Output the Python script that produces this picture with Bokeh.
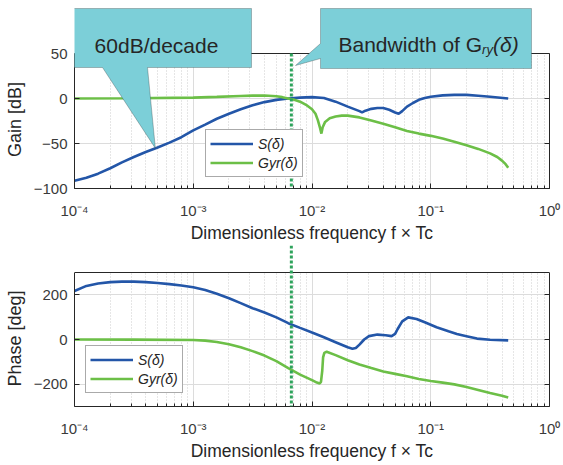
import numpy as np
from bokeh.plotting import figure
from bokeh.layouts import column
from bokeh.models import (Range1d, Legend, LegendItem, Label, PolyAnnotation, Arrow, Span,
                          BoxAnnotation, FixedTicker, LinearAxis, CustomJSTickFormatter)
from bokeh.embed import file_html
from bokeh.resources import INLINE

# ---------------- data ----------------
f_gain_S = [1.00e-4, 1.26e-4, 1.58e-4, 2.00e-4, 2.51e-4, 3.16e-4, 3.98e-4, 5.01e-4, 6.31e-4, 7.94e-4,
            1.00e-3, 1.26e-3, 1.58e-3, 2.00e-3, 2.51e-3, 3.16e-3, 3.98e-3, 5.01e-3, 6.31e-3, 7.94e-3,
            1.00e-2, 1.26e-2, 1.58e-2, 2.00e-2, 2.51e-2, 2.64e-2, 2.82e-2, 3.16e-2, 3.55e-2, 3.98e-2,
            4.47e-2, 5.01e-2, 5.37e-2, 5.75e-2, 6.31e-2, 7.08e-2, 7.94e-2, 8.91e-2, 1.00e-1, 1.26e-1,
            1.58e-1, 2.00e-1, 2.51e-1, 3.16e-1, 4.49e-1]
gain_S = [-91.5, -88, -83.5, -77.5, -71, -65, -59.5, -54.5, -49, -43,
          -35.5, -29, -22.5, -17, -12, -7.5, -4, -1.5, 0, 1,
          1.5, 0.5, -3.5, -9, -14, -15.5, -13.5, -11.5, -10.5, -10.5,
          -12.5, -15.5, -17, -14, -9, -5, -1.5, 0.5, 2, 3.5,
          4, 4, 3, 2, 0]

f_gain_G = [1.00e-4, 3.16e-4, 1.00e-3, 1.58e-3, 2.51e-3, 3.16e-3, 3.98e-3, 5.01e-3, 5.62e-3, 6.31e-3,
            7.08e-3, 7.94e-3, 8.91e-3, 1.00e-2, 1.07e-2, 1.12e-2, 1.17e-2, 1.20e-2, 1.23e-2, 1.29e-2,
            1.41e-2, 1.58e-2, 1.78e-2, 2.00e-2, 2.51e-2, 3.16e-2, 3.98e-2, 5.01e-2, 6.31e-2, 7.94e-2,
            1.00e-1, 1.26e-1, 1.58e-1, 2.00e-1, 2.51e-1, 3.16e-1, 3.63e-1, 3.98e-1, 4.27e-1, 4.49e-1]
gain_G = [0, 0.2, 1, 1.8, 2.8, 3.2, 3.3, 2.5, 1.5, 0,
          -1.5, -3.5, -7, -12, -17, -24, -33, -39, -32, -26,
          -22, -20, -19, -19, -21, -24.5, -28, -32, -36, -39,
          -41.5, -44.5, -48, -52, -56, -61, -65, -69, -73, -77]

f_phase_S = [1.00e-4, 1.26e-4, 1.58e-4, 2.00e-4, 2.51e-4, 3.16e-4, 3.98e-4, 5.01e-4, 6.31e-4, 7.94e-4,
             1.00e-3, 1.26e-3, 1.58e-3, 2.00e-3, 2.51e-3, 3.16e-3, 3.98e-3, 5.01e-3, 6.31e-3, 7.94e-3,
             1.00e-2, 1.26e-2, 1.58e-2, 2.00e-2, 2.19e-2, 2.34e-2, 2.51e-2, 2.75e-2, 3.02e-2, 3.55e-2,
             4.17e-2, 4.68e-2, 5.01e-2, 5.25e-2, 5.75e-2, 6.46e-2, 7.59e-2, 8.91e-2, 1.12e-1, 1.41e-1,
             1.66e-1, 2.00e-1, 2.45e-1, 3.16e-1, 4.49e-1]
phase_S = [217, 240, 251, 257, 259, 259, 257, 253, 248, 242,
           234, 222, 205, 185, 163, 140, 121, 99, 73, 52,
           31, 10, -12, -35, -41, -38, -23, 0, 15, 22,
           19, 15, 25, 46, 81, 99, 92, 77, 55, 37,
           25, 15, 4, -1, -4]

f_phase_G = [1.00e-4, 3.16e-4, 1.00e-3, 1.26e-3, 1.58e-3, 2.00e-3, 2.51e-3, 3.16e-3, 3.98e-3, 5.01e-3,
             6.31e-3, 7.94e-3, 1.00e-2, 1.10e-2, 1.16e-2, 1.19e-2, 1.22e-2, 1.24e-2, 1.27e-2, 1.33e-2,
             1.58e-2, 2.00e-2, 2.51e-2, 3.16e-2, 3.98e-2, 5.01e-2, 6.31e-2, 7.94e-2, 1.00e-1, 1.26e-1,
             1.58e-1, 2.00e-1, 2.51e-1, 3.16e-1, 3.98e-1, 4.49e-1]
phase_G = [0, -0.5, -2, -5, -11, -21, -35, -52, -72, -97,
           -128, -157, -182, -193, -197, -190, -140, -80, -60, -55,
           -70, -93, -112, -128, -143, -154, -165, -177, -186, -193,
           -201, -213, -226, -240, -252, -260]

bandwidth_f = 6.7e-3          # bandwidth of G_ry marker
slope_marker_f = 4.8e-4       # point the "60dB/decade" callout refers to

x_ticks = [1e-4, 1e-3, 1e-2, 1e-1, 1.0]
x_tick_labels = ["10⁻⁴", "10⁻³", "10⁻²", "10⁻¹", "10⁰"]
gain_lim = (-100, 50)
gain_ticks = [-100, -50, 0, 50]
gain_tick_labels = ["−100", "−50", "0", "50"]
phase_lim = (-300, 300)
phase_ticks = [-200, 0, 200]
phase_tick_labels = ["−200", "0", "200"]
x_minor = [m * 10.0 ** e for e in range(-4, 0) for m in range(2, 10)]

# ---------------- style / layout (page pixels) ----------------
FONT = "Liberation Sans"
INK = "#262626"
BLUE = "#2356a8"
GREEN = "#6cbf47"
BW = "#2ea35c"
CALLOUT = "#7ccfd8"

W = 563
LEFT, RIGHT = 74, 14
X0, X1 = LEFT, W - RIGHT            # frame left/right (page x)
DEC = (X1 - X0) / 4.0

H_TOP = 245                         # top figure occupies page y 0..245
G_TOP_PX, G_BOT_PX = 53, 188        # where 50 dB and -100 dB sit
H_BOT = 220                         # bottom figure occupies page y 245..465
P_TOP_PX, P_BOT_PX = 272, 406       # where 300 deg and -300 deg sit


def fx(px):
    return 10 ** (-4 + (px - X0) / DEC)


def gy(py):
    return gain_lim[1] - (py - G_TOP_PX) * (gain_lim[1] - gain_lim[0]) / (G_BOT_PX - G_TOP_PX)


def ph(py):
    return phase_lim[1] - (py - P_TOP_PX) * (phase_lim[1] - phase_lim[0]) / (P_BOT_PX - P_TOP_PX)


def overrides(ticks, labels):
    d = {}
    for t, l in zip(ticks, labels):
        t = float(t)
        d[t] = l
        d[str(int(t)) if t.is_integer() else repr(t)] = l
    return d


def make_fig(height, page_top, frame_bottom_px, yconv, lim, yticks, ylabels, ylabel, pad):
    bottom_border = page_top + height - frame_bottom_px
    y_top = yconv(page_top)
    p = figure(width=W, height=height, x_axis_type="log", x_range=Range1d(1e-4, 1.0),
               y_range=Range1d(lim[0], y_top), output_backend="svg", toolbar_location=None,
               min_border_left=LEFT, min_border_right=RIGHT, min_border_top=0,
               min_border_bottom=bottom_border)
    p.title.visible = False
    p.outline_line_color = None
    p.border_fill_color = "white"
    p.background_fill_color = "white"
    xt = FixedTicker(ticks=x_ticks, minor_ticks=x_minor)
    yt = FixedTicker(ticks=yticks)
    p.xaxis.ticker = xt
    p.yaxis.ticker = yt
    p.xgrid.ticker = xt
    p.ygrid.ticker = yt
    p.yaxis.bounds = lim
    p.xaxis.major_label_overrides = overrides(x_ticks, x_tick_labels)
    p.yaxis.major_label_overrides = overrides(yticks, ylabels)
    p.xgrid.grid_line_color = "#dcdcdc"
    p.xgrid.minor_grid_line_color = "#cccccc"
    p.xgrid.minor_grid_line_dash = "1 2"
    p.ygrid.grid_line_color = "#dcdcdc"
    try:
        p.xgrid.cross_bounds = lim
    except AttributeError:
        p.add_layout(BoxAnnotation(bottom=lim[1], fill_color="white", fill_alpha=1,
                                   line_alpha=0, level="underlay"))
    for ax in (p.xaxis[0], p.yaxis[0]):
        ax.axis_line_color = INK
        ax.major_tick_line_color = INK
        ax.minor_tick_line_color = INK
        ax.major_tick_in = 5
        ax.major_tick_out = 0
        ax.minor_tick_in = 3
        ax.minor_tick_out = 0
        ax.major_label_text_font = FONT
        ax.major_label_text_color = "#3a3a3a"
    p.xaxis.major_label_text_font_size = "15px"
    p.xaxis.major_label_standoff = 13
    p.xaxis.axis_label = "Dimensionless frequency f × Tc"
    p.xaxis.axis_label_text_font = FONT
    p.xaxis.axis_label_text_font_size = "17.5px"
    p.xaxis.axis_label_text_font_style = "normal"
    p.xaxis.axis_label_text_color = INK
    p.xaxis.axis_label_standoff = 1
    p.yaxis.major_label_text_font_size = "15px"
    p.yaxis.major_label_standoff = 7
    # pad the label so it centres on the plotted box rather than on the whole frame
    p.yaxis.axis_label = ylabel + "\u00a0" * pad
    p.yaxis.axis_label_text_font = FONT
    p.yaxis.axis_label_text_font_size = "18px"
    p.yaxis.axis_label_text_font_style = "normal"
    p.yaxis.axis_label_text_color = INK
    p.yaxis.axis_label_standoff = 6
    blank = CustomJSTickFormatter(code="return ''")
    right_ax = LinearAxis(ticker=yt, formatter=blank, major_label_text_font_size="0px",
                          major_label_standoff=0, axis_line_color=INK, bounds=lim,
                          major_tick_in=5, major_tick_out=0, major_tick_line_color=INK)
    p.add_layout(right_ax, "right")
    # top edge of the axes box
    p.add_layout(Span(location=lim[1], dimension="width", line_color=INK, line_width=1))
    return p


def make_legend(r1, r2, loc):
    lg = Legend(items=[LegendItem(label="S(δ)", renderers=[r1]),
                       LegendItem(label="Gyr(δ)", renderers=[r2])],
                location=loc)
    lg.label_text_font = FONT
    lg.label_text_font_style = "italic"
    lg.label_text_font_size = "14px"
    lg.label_text_color = INK
    lg.glyph_width = 43
    lg.glyph_height = 19
    lg.label_height = 19
    lg.label_standoff = 5
    lg.padding = 4
    lg.spacing = 0
    lg.margin = 0
    lg.border_line_color = "#555555"
    lg.border_line_width = 1
    lg.background_fill_color = "white"
    lg.background_fill_alpha = 1
    return lg


# ---------------- top: gain ----------------
pg = make_fig(H_TOP, 0, G_BOT_PX, gy, gain_lim, gain_ticks, gain_tick_labels, "Gain [dB]", 10)
rs = pg.line(f_gain_S, gain_S, line_color=BLUE, line_width=2.6)
rg = pg.line(f_gain_G, gain_G, line_color=GREEN, line_width=2.6)
pg.add_layout(make_legend(rs, rg, (131, 11)), "center")
pg.add_layout(Arrow(end=None, x_start=bandwidth_f, y_start=gain_lim[1], x_end=bandwidth_f,
                    y_end=gain_lim[0] - 20, line_color=BW, line_width=3, line_dash="3 2"))

# callout 1: slope
tip_y = float(np.interp(np.log10(slope_marker_f), np.log10(f_gain_S), gain_S))
c1x = [fx(72), fx(251), fx(251), fx(147), slope_marker_f, fx(102), fx(72)]
c1y = [gy(8), gy(8), gy(67), gy(67), tip_y, gy(67), gy(67)]
pg.add_layout(PolyAnnotation(xs=c1x, ys=c1y, xs_units="data", ys_units="data",
                             fill_color=CALLOUT, fill_alpha=1, line_color="#333333", line_width=1))
pg.add_layout(Label(x=fx(156), y=gy(45), text="60dB/decade", text_font=FONT, text_font_size="21px",
                    text_color=INK, text_align="center", text_baseline="alphabetic"))

# callout 2: bandwidth
c2x = [fx(320), fx(531), fx(531), fx(320), fx(320), fx(295), fx(320)]
c2y = [gy(8), gy(8), gy(68), gy(68), gy(58), gy(65), gy(43)]
pg.add_layout(PolyAnnotation(xs=c2x, ys=c2y, xs_units="data", ys_units="data",
                             fill_color=CALLOUT, fill_alpha=1, line_color="#333333", line_width=1))
bx = 338
w1 = 6.837 * 21
pg.add_layout(Label(x=fx(bx), y=gy(44), text="Bandwidth of G", text_font=FONT, text_font_size="21px",
                    text_color=INK, text_align="left", text_baseline="alphabetic"))
pg.add_layout(Label(x=fx(bx + w1), y=gy(49), text="ry", text_font=FONT, text_font_size="13px",
                    text_font_style="italic", text_color=INK, text_align="left", text_baseline="alphabetic"))
pg.add_layout(Label(x=fx(bx + w1 + 11), y=gy(44), text="(δ)", text_font=FONT, text_font_size="21px",
                    text_font_style="italic", text_color=INK, text_align="left", text_baseline="alphabetic"))

# ---------------- bottom: phase ----------------
pp = make_fig(H_BOT, H_TOP, P_BOT_PX, ph, phase_lim, phase_ticks, phase_tick_labels, "Phase [deg]", 5)
rs2 = pp.line(f_phase_S, phase_S, line_color=BLUE, line_width=2.6)
rg2 = pp.line(f_phase_G, phase_G, line_color=GREEN, line_width=2.6)
pp.add_layout(make_legend(rs2, rg2, (11, 13)), "center")
pp.add_layout(Arrow(end=None, x_start=bandwidth_f, y_start=ph(H_TOP), x_end=bandwidth_f,
                    y_end=phase_lim[0], line_color=BW, line_width=3, line_dash="3 2"))

layout = column(pg, pp, spacing=0)
open("out.html", "w").write(file_html(layout, INLINE))
